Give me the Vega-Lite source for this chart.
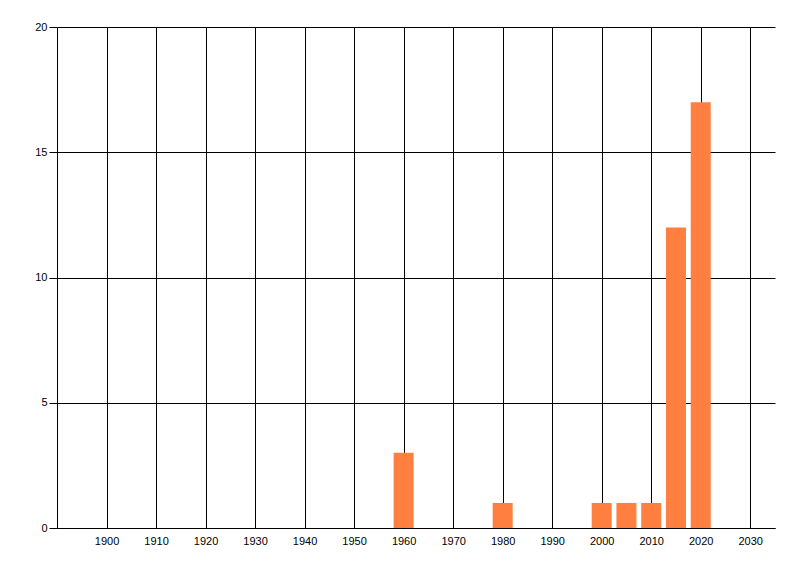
{
  "$schema": "https://vega.github.io/schema/vega-lite/v6.json",
  "width": 718,
  "height": 501,
  "autosize": {"type": "none"},
  "padding": {"left": 57, "top": 27, "right": 25, "bottom": 48},
  "background": "white",
  "config": {
    "view": {"stroke": null},
    "axis": {
      "labelFont": "Liberation Sans",
      "labelFontSize": 11,
      "labelColor": "#000000",
      "gridColor": "#000000",
      "gridOpacity": 1,
      "gridWidth": 1,
      "domainColor": "#000000",
      "domainWidth": 1,
      "tickColor": "#000000",
      "title": null
    }
  },
  "data": {
    "values": [
      {"year": 1960, "count": 3},
      {"year": 1980, "count": 1},
      {"year": 2000, "count": 1},
      {"year": 2005, "count": 1},
      {"year": 2010, "count": 1},
      {"year": 2015, "count": 12},
      {"year": 2020, "count": 17}
    ]
  },
  "mark": {"type": "bar", "size": 20, "color": "#FF7F40"},
  "encoding": {
    "x": {
      "field": "year",
      "type": "quantitative",
      "scale": {"domain": [1890, 2035], "nice": false, "zero": false, "padding": 0},
      "axis": {
        "values": [1900, 1910, 1920, 1930, 1940, 1950, 1960, 1970, 1980, 1990, 2000, 2010, 2020, 2030],
        "format": "d",
        "ticks": false,
        "labelPadding": 7,
        "grid": true,
        "title": null
      }
    },
    "y": {
      "field": "count",
      "type": "quantitative",
      "scale": {"domain": [0, 20], "nice": false},
      "axis": {
        "values": [0, 5, 10, 15, 20],
        "tickSize": 8,
        "labelPadding": 2,
        "grid": true,
        "title": null
      }
    }
  }
}
